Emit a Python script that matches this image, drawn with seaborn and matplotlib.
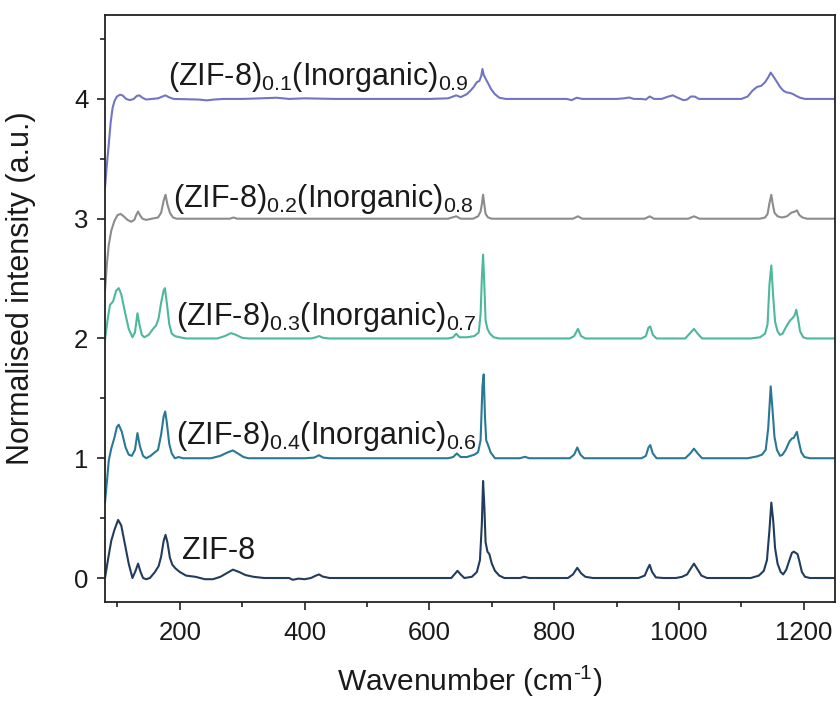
import numpy as np
import pandas as pd
import matplotlib
matplotlib.use("Agg")
import matplotlib.pyplot as plt
import seaborn as sns
from matplotlib.ticker import MultipleLocator

# ---------------- data (wavenumber, normalised intensity before offset) ----------------
zif8 = [(80,0.00),(85,0.16),(90,0.31),(95,0.40),(101,0.485),(106,0.44),(112,0.28),(118,0.12),
        (124,0.00),(129,0.06),(133,0.12),(137,0.05),(141,0.00),(146,-0.01),(152,0.00),(160,0.05),
        (166,0.10),(170,0.18),(174,0.31),(177,0.36),(180,0.30),(184,0.17),(188,0.11),(193,0.08),
        (200,0.05),(210,0.02),(225,0.01),(240,-0.01),(253,-0.01),(265,0.01),(275,0.04),(285,0.07),
        (295,0.05),(305,0.025),(318,0.01),(335,0.0),(360,0.0),(375,0.0),(381,-0.015),(390,-0.005),
        (400,-0.01),(410,0.0),(418,0.02),(423,0.03),(429,0.012),(440,0.0),(500,0.0),(560,0.0),
        (620,0.0),(635,0.0),(640,0.03),(645,0.06),(650,0.03),(656,0.0),(668,0.01),(676,0.05),
        (681,0.15),(684,0.45),(686,0.81),(688,0.6),(690,0.3),(693,0.22),(696,0.2),(700,0.12),
        (705,0.06),(712,0.02),(720,0.0),(745,0.0),(752,0.01),(760,0.0),(800,0.0),(822,0.0),
        (830,0.03),(837,0.085),(843,0.04),(850,0.01),(862,0.0),(900,0.0),(935,0.0),(945,0.02),
        (950,0.08),(953,0.11),(957,0.05),(963,0.005),(975,0.0),(995,0.0),(1005,0.01),(1013,0.03),
        (1019,0.08),(1024,0.12),(1030,0.07),(1036,0.02),(1045,0.0),(1080,0.0),(1115,0.0),(1128,0.02),
        (1136,0.06),(1141,0.15),(1145,0.40),(1148,0.63),(1151,0.48),(1154,0.25),(1158,0.12),
        (1163,0.05),(1167,0.03),(1172,0.07),(1177,0.15),(1181,0.21),(1184,0.22),(1187,0.21),
        (1190,0.20),(1193,0.14),(1197,0.05),(1202,0.01),(1210,0.0),(1250,0.0)]

zif8_04 = [(80,-0.37),(83,-0.2),(86,-0.02),(90,0.08),(95,0.17),(99,0.26),(102,0.28),(107,0.22),
           (113,0.09),(118,0.03),(123,0.02),(128,0.07),(132,0.21),(136,0.1),(141,0.02),(146,0.0),
           (153,0.02),(160,0.05),(165,0.07),(170,0.2),(174,0.35),(176.5,0.39),(179,0.3),(183,0.12),
           (187,0.04),(192,0.0),(198,0.01),(205,0.0),(250,0.0),(265,0.02),(277,0.05),(285,0.065),
           (293,0.04),(302,0.01),(310,0.0),(400,0.0),(415,0.005),(423,0.025),(430,0.005),(440,0.0),
           (630,0.0),(638,0.01),(644,0.04),(650,0.01),(660,0.01),(672,0.03),(678,0.05),(682,0.15),
           (685,0.6),(687,0.70),(689,0.35),(691,0.15),(694,0.11),(698,0.05),(705,0.0),(745,0.0),
           (753,0.012),(760,0.0),(825,0.0),(832,0.03),(837,0.09),(842,0.03),(848,0.0),(940,0.0),
           (947,0.02),(951,0.09),(954,0.11),(958,0.04),(964,0.0),(1010,0.0),(1018,0.04),(1024,0.08),
           (1030,0.04),(1037,0.0),(1110,0.0),(1125,0.015),(1133,0.03),(1139,0.07),(1143,0.25),
           (1147,0.60),(1150,0.4),(1153,0.18),(1157,0.07),(1162,0.02),(1166,0.03),(1171,0.07),
           (1177,0.14),(1181,0.165),(1184,0.17),(1187,0.2),(1189,0.22),(1192,0.14),(1196,0.05),
           (1201,0.01),(1210,0.0),(1250,0.0)]

zif8_03 = [(80,-0.01),(84,0.15),(88,0.28),(93,0.31),(98,0.4),(102,0.42),(106,0.37),(112,0.22),
           (118,0.08),(124,0.01),(128,0.05),(132,0.21),(135,0.12),(139,0.03),(143,0.01),(150,0.03),
           (157,0.08),(162,0.11),(166,0.17),(170,0.3),(174,0.4),(176,0.42),(179,0.3),(183,0.12),
           (187,0.04),(192,0.02),(200,0.01),(210,0.0),(260,0.0),(272,0.02),(282,0.045),(290,0.03),
           (300,0.005),(310,0.0),(410,0.0),(418,0.01),(423,0.02),(430,0.005),(440,0.0),(630,0.0),
           (638,0.01),(643,0.04),(648,0.01),(660,0.01),(672,0.02),(679,0.05),(682,0.2),(684,0.5),
           (686,0.70),(688,0.45),(690,0.15),(693,0.08),(697,0.04),(703,0.01),(712,0.0),(825,0.0),
           (832,0.02),(838,0.08),(843,0.02),(850,0.0),(940,0.0),(947,0.02),(951,0.09),(954,0.10),
           (958,0.03),(964,0.0),(1010,0.0),(1017,0.04),(1024,0.08),(1030,0.04),(1037,0.0),(1115,0.0),
           (1130,0.01),(1138,0.04),(1142,0.12),(1145,0.45),(1148,0.61),(1151,0.35),(1154,0.14),
           (1158,0.06),(1162,0.03),(1166,0.04),(1172,0.1),(1178,0.15),(1182,0.17),(1185,0.19),
           (1188,0.24),(1191,0.16),(1194,0.06),(1199,0.01),(1205,0.0),(1250,0.0)]

zif8_02 = [(80,-0.6),(83,-0.38),(86,-0.22),(90,-0.1),(95,-0.02),(100,0.03),(105,0.04),(110,0.02),
           (116,-0.01),(122,-0.025),(127,-0.01),(130,0.03),(133,0.06),(136,0.03),(140,0.0),
           (146,-0.01),(155,0.0),(165,0.01),(170,0.05),(174,0.15),(177,0.2),(180,0.12),(184,0.05),
           (189,0.01),(195,0.0),(280,0.0),(286,0.01),(292,0.0),(630,0.0),(643,0.02),(650,0.0),
           (670,0.0),(678,0.02),(682,0.06),(684,0.12),(686,0.20),(688,0.12),(690,0.04),(694,0.01),
           (700,0.0),(830,0.0),(838,0.02),(845,0.0),(945,0.0),(953,0.02),(960,0.0),(1015,0.0),
           (1024,0.02),(1033,0.0),(1130,0.0),(1138,0.01),(1142,0.04),(1145,0.13),(1148,0.20),
           (1150,0.13),(1153,0.05),(1158,0.02),(1165,0.01),(1173,0.02),(1180,0.05),(1186,0.06),
           (1189,0.07),(1193,0.03),(1198,0.01),(1205,0.0),(1250,0.0)]

zif8_01 = [(80,-0.74),(83,-0.55),(86,-0.38),(89,-0.2),(92,-0.08),(95,-0.02),(99,0.02),(104,0.035),
           (108,0.03),(114,0.0),(120,-0.01),(126,0.0),(131,0.025),(135,0.03),(140,0.01),(146,-0.005),
           (155,0.0),(165,0.005),(172,0.02),(177,0.03),(182,0.015),(190,0.0),(230,-0.005),
           (243,-0.012),(255,-0.005),(270,0.0),(300,0.0),(330,0.005),(355,0.01),(375,0.0),
           (400,0.005),(450,0.0),(500,0.0),(600,0.0),(630,0.005),(643,0.03),(650,0.015),(660,0.04),
           (666,0.07),(671,0.1),(676,0.14),(680,0.15),(683,0.19),(685,0.25),(687,0.2),(690,0.17),
           (694,0.13),(699,0.08),(705,0.04),(712,0.01),(722,0.0),(780,0.0),(820,0.0),(828,-0.01),
           (836,0.01),(845,0.0),(900,0.0),(912,0.005),(920,0.012),(928,0.0),(940,0.0),(947,-0.005),
           (953,0.02),(960,0.0),(972,0.0),(983,0.02),(990,0.03),(998,0.01),(1007,-0.01),
           (1013,-0.005),(1019,0.02),(1025,0.02),(1032,0.0),(1100,0.0),(1110,0.02),(1118,0.07),
           (1125,0.1),(1132,0.11),(1138,0.14),(1143,0.18),(1147,0.22),(1151,0.19),(1156,0.15),
           (1162,0.1),(1167,0.07),(1172,0.055),(1178,0.05),(1183,0.04),(1188,0.025),(1194,0.01),
           (1202,0.0),(1250,0.0)]

series = [zif8, zif8_04, zif8_03, zif8_02, zif8_01]
offsets = [0, 1, 2, 3, 4]
labels = ["ZIF-8",
          r"(ZIF-8)$_{\mathregular{0.4}}$(Inorganic)$_{\mathregular{0.6}}$",
          r"(ZIF-8)$_{\mathregular{0.3}}$(Inorganic)$_{\mathregular{0.7}}$",
          r"(ZIF-8)$_{\mathregular{0.2}}$(Inorganic)$_{\mathregular{0.8}}$",
          r"(ZIF-8)$_{\mathregular{0.1}}$(Inorganic)$_{\mathregular{0.9}}$"]
label_x = [203, 194, 194, 189, 181]
label_y = [0.16, 1.12, 2.11, 3.10, 4.12]
colors = ["#213c5c", "#2a7894", "#4db89c", "#8c8c8c", "#7275c2"]

# ---------------- styling ----------------
sns.set_theme(style="ticks")
plt.rcParams["font.family"] = ["Liberation Sans", "DejaVu Sans"]
plt.rcParams["mathtext.fontset"] = "custom"
plt.rcParams["mathtext.rm"] = "Liberation Sans"
plt.rcParams["mathtext.it"] = "Liberation Sans:italic"
plt.rcParams["mathtext.bf"] = "Liberation Sans:bold"

fig = plt.figure(figsize=(8.4, 7.02), dpi=100)
ax = fig.add_axes([0.125, 0.1425, 0.869, 0.836])

frames = []
for s, off, lab in zip(series, offsets, labels):
    arr = np.array(s, dtype=float)
    frames.append(pd.DataFrame({"wn": arr[:, 0], "I": arr[:, 1] + off, "sample": lab}))
df = pd.concat(frames, ignore_index=True)

sns.lineplot(data=df, x="wn", y="I", hue="sample", palette=dict(zip(labels, colors)),
             estimator=None, sort=False, linewidth=1.5, legend=False, ax=ax)

for lab, lx, ly in zip(labels, label_x, label_y):
    ax.text(lx, ly, lab, fontsize=22, color="#1a1a1a", ha="left", va="baseline")

ax.set_xlim(80, 1250)
ax.set_ylim(-0.2, 4.7)
ax.xaxis.set_major_locator(MultipleLocator(200))
ax.xaxis.set_minor_locator(MultipleLocator(100))
ax.yaxis.set_major_locator(MultipleLocator(1))
ax.yaxis.set_minor_locator(MultipleLocator(0.5))
ax.tick_params(axis="both", which="major", direction="out", length=6, width=1.2,
               labelsize=18.5, color="#222222", labelcolor="#1a1a1a")
ax.tick_params(axis="x", which="major", pad=8)
ax.tick_params(axis="y", which="major", pad=6)
ax.tick_params(axis="both", which="minor", direction="out", length=3.5, width=1.2, color="#222222")
ax.tick_params(top=False, right=False, which="both")
for sp in ax.spines.values():
    sp.set_visible(True)
    sp.set_linewidth(1.3)
    sp.set_color("#222222")

ax.set_xlabel(r"Wavenumber (cm$^{\text{-}1}$)", fontsize=21.5, color="#1a1a1a")
ax.set_ylabel("Normalised intensity (a.u.)", fontsize=22, color="#1a1a1a")
ax.xaxis.set_label_coords(0.5, -0.106)
ax.yaxis.set_label_coords(-0.095, 0.535)

fig.savefig("out.png", dpi=100, facecolor="white")
